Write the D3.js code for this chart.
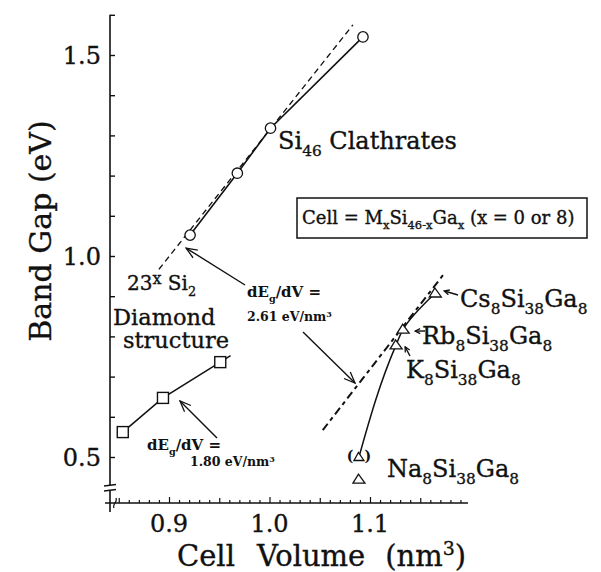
<!DOCTYPE html>
<html>
<head>
<meta charset="utf-8">
<script src="https://cdn.jsdelivr.net/npm/d3@7/dist/d3.min.js"></script>
<style>
  body { margin: 0; background: #fff; }
  svg { display: block; }
  text { font-family: "DejaVu Serif", "Liberation Serif", serif; fill: #111; }
  text.heavy { stroke: #111; stroke-width: 0.35px; }
</style>
</head>
<body>
<svg id="chart" width="601" height="572"></svg>
<script>
// Si46 clathrates (x = 0): cell volume (nm^3) and band gap (eV)
const siVolume = [0.921, 0.968, 1.001, 1.093];
const siGap    = [1.052, 1.206, 1.318, 1.545];

// diamond-structure silicon, 23 x Si2 cell
const diaVolume = [0.854, 0.894, 0.951];
const diaGap    = [0.562, 0.647, 0.736];

// M8Si38Ga8 clathrates (x = 8)
const gaMetals = ["Cs", "Rb", "K", "Na"];
const gaVolume = [1.165, 1.133, 1.126, 1.089];
const gaGap    = [0.908, 0.818, 0.779, 0.445];

// second (bracketed) value for Na8Si38Ga8
const naAltVolume = [1.089];
const naAltGap    = [0.500];

// linear fits drawn dashed
const siFitVolume = [0.890, 1.083];
const siFitGap    = [0.967, 1.575];
const gaFitVolume = [1.053, 1.175];
const gaFitGap    = [0.567, 0.960];

// axis ticks
const xTickLabels = ["0.9", "1.0", "1.1"];
const yTickLabels = ["0.5", "1.0", "1.5"];
const xMinorTicks = d3.range(85, 120).map(v => v / 100);
const yMinorTicks = d3.range(5, 17).map(v => v / 10);

const svg = d3.select("#chart");

const x = d3.scaleLinear().domain([0.9, 1.1]).range([169, 370]);
const y = d3.scaleLinear().domain([0.5, 1.5]).range([457, 55]);

const axisX0 = 105, axisX1 = 468;   // x-axis extent (px)
const axisY  = 503;                 // x-axis baseline (px)
const yAxisX = 110;                 // y-axis position (px)
const yTop   = y(1.6);

// ---- marker defs (open arrowheads) ----
const defs = svg.append("defs");
function arrowDef(id, len, half) {
  defs.append("marker")
    .attr("id", id)
    .attr("viewBox", `${-len - 1} ${-half - 1} ${len + 2} ${2 * half + 2}`)
    .attr("markerUnits", "userSpaceOnUse")
    .attr("markerWidth", len + 2).attr("markerHeight", 2 * half + 2)
    .attr("refX", 0).attr("refY", 0)
    .attr("orient", "auto")
    .append("path")
    .attr("d", `M${-len},${-half} L0,0 L${-len},${half}`)
    .attr("fill", "none").attr("stroke", "#111").attr("stroke-width", 1.3);
}
arrowDef("arrow", 11, 4.5);
arrowDef("arrowSmall", 5, 2.5);

// ---- axes ----
const axes = svg.append("g").attr("stroke", "#111").attr("fill", "none");

// y axis with break near the bottom
axes.append("line").attr("x1", yAxisX).attr("x2", yAxisX).attr("y1", yTop).attr("y2", 485).attr("stroke-width", 1.6);
axes.append("line").attr("x1", yAxisX).attr("x2", yAxisX).attr("y1", 490).attr("y2", 512).attr("stroke-width", 1.6);
axes.append("line").attr("x1", 104).attr("x2", 116).attr("y1", 486).attr("y2", 484.5).attr("stroke-width", 1.3);
axes.append("line").attr("x1", 104).attr("x2", 116).attr("y1", 491).attr("y2", 489.5).attr("stroke-width", 1.3);

// x axis with break mark
axes.append("line").attr("x1", axisX0).attr("x2", axisX1).attr("y1", axisY).attr("y2", axisY).attr("stroke-width", 1.5);
axes.append("path")
  .attr("d", `M114,${axisY + 5} C112,${axisY + 1} 118,${axisY - 1} 116,${axisY - 5}`)
  .attr("stroke-width", 1.2);

// y ticks (inward)
const yAxis = d3.axisLeft(y).tickValues(yMinorTicks).tickSize(-5).tickFormat("");
const gy = svg.append("g").attr("transform", `translate(${yAxisX},0)`).call(yAxis);
gy.select(".domain").remove();
gy.selectAll("line").attr("stroke", "#111").attr("stroke-width", 1.4);

// x ticks (inward): minor 0.01, medium 0.05, major 0.1
const xAxis = d3.axisBottom(x).tickValues(xMinorTicks)
  .tickSize(-3).tickFormat("");
const gx = svg.append("g").attr("transform", `translate(0,${axisY})`).call(xAxis);
gx.select(".domain").remove();
gx.selectAll(".tick line")
  .attr("stroke", "#111").attr("stroke-width", 1.2)
  .attr("y2", d => {
    const k = Math.round(d * 100);
    return k % 10 === 0 ? -6 : (k % 5 === 0 ? -5 : -3);
  });

// tick labels
svg.append("g").selectAll("text").data(xTickLabels).join("text")
  .attr("class", "heavy")
  .attr("x", d => x(+d)).attr("y", 532)
  .attr("text-anchor", "middle")
  .style("font-size", "24px")
  .text(d => d);

svg.append("g").selectAll("text").data(yTickLabels).join("text")
  .attr("class", "heavy")
  .attr("x", 101).attr("y", d => y(+d) + 9)
  .attr("text-anchor", "end")
  .style("font-size", "24px")
  .text(d => d);

// axis titles
const xTitle = svg.append("text").attr("class", "heavy").attr("x", 177).attr("y", 566).style("font-size", "29px");
xTitle.append("tspan").text("Cell");
xTitle.append("tspan").attr("dx", 22).text("Volume");
xTitle.append("tspan").attr("dx", 20).text("(nm");
xTitle.append("tspan").attr("dy", -11).style("font-size", "19px").text("3");
xTitle.append("tspan").attr("dy", 11).text(")");

svg.append("text")
  .attr("class", "heavy")
  .attr("transform", "translate(51,231) rotate(-90)")
  .attr("text-anchor", "middle")
  .style("font-size", "30px")
  .text("Band Gap (eV)");

// ---- helper for text with sub/superscripts ----
function richText(parent, px, py, segs, size, weight, cls) {
  const t = parent.append("text").attr("x", px).attr("y", py)
    .attr("class", cls || null)
    .style("font-size", size + "px").style("font-weight", weight || "normal");
  let shift = 0;
  segs.forEach(([s, kind, scale]) => {
    const target = kind === "sub" ? size * 0.3 : kind === "sup" ? -size * 0.3 : 0;
    t.append("tspan")
      .attr("dy", target - shift)
      .style("font-size", (kind ? size * (scale || 0.64) : size) + "px")
      .text(s);
    shift = target;
  });
  return t;
}

// ---- dashed linear fits ----
const line = d3.line().x(d => x(d[0])).y(d => y(d[1]));

svg.append("path")
  .datum(d3.zip(siFitVolume, siFitGap))
  .attr("d", line)
  .attr("fill", "none").attr("stroke", "#111").attr("stroke-width", 1.3)
  .attr("stroke-dasharray", "6,4");

svg.append("path")
  .datum(d3.zip(gaFitVolume, gaFitGap))
  .attr("d", line)
  .attr("fill", "none").attr("stroke", "#111").attr("stroke-width", 2)
  .attr("stroke-dasharray", "8,4,4,4");

// ---- solid series lines ----
svg.append("path")
  .datum(d3.zip(siVolume, siGap))
  .attr("d", line)
  .attr("fill", "none").attr("stroke", "#111").attr("stroke-width", 1.6);

// diamond line runs a little past the last point along its last segment
const diaPts = d3.zip(diaVolume, diaGap);
const nD = diaPts.length;
const tail = 0.18;
const diaTail = [
  diaPts[nD - 1][0] + tail * (diaPts[nD - 1][0] - diaPts[nD - 2][0]),
  diaPts[nD - 1][1] + tail * (diaPts[nD - 1][1] - diaPts[nD - 2][1])
];
svg.append("path")
  .datum(diaPts.concat([diaTail]))
  .attr("d", line)
  .attr("fill", "none").attr("stroke", "#111").attr("stroke-width", 1.5);

// Ga-substituted series: bracketed Na value through K, Rb, Cs
const gaPts = [[naAltVolume[0], naAltGap[0]]]
  .concat(d3.zip(gaVolume, gaGap).filter((d, i) => gaMetals[i] !== "Na")
  .sort((a, b) => a[1] - b[1]));
svg.append("path")
  .datum(gaPts)
  .attr("d", d3.line().x(d => x(d[0])).y(d => y(d[1])).curve(d3.curveMonotoneY))
  .attr("fill", "none").attr("stroke", "#111").attr("stroke-width", 1.5);

// ---- markers ----
svg.append("g").selectAll("circle").data(d3.zip(siVolume, siGap)).join("circle")
  .attr("cx", d => x(d[0])).attr("cy", d => y(d[1])).attr("r", 5.2)
  .attr("fill", "#fff").attr("stroke", "#111").attr("stroke-width", 1.3);

svg.append("g").selectAll("rect").data(diaPts).join("rect")
  .attr("x", d => x(d[0]) - 5.5).attr("y", d => y(d[1]) - 5.5)
  .attr("width", 11).attr("height", 11)
  .attr("fill", "#fff").attr("stroke", "#111").attr("stroke-width", 1.4);

const tri = "M-6,4 L6,4 L-0.5,-5 Z";
const triSmall = "M-5,3.5 L5,3.5 L-0.5,-4.5 Z";
svg.append("g").selectAll("path")
  .data(d3.zip(gaVolume, gaGap))
  .join("path")
  .attr("transform", d => `translate(${x(d[0])},${y(d[1])})`)
  .attr("d", tri)
  .attr("fill", "#fff").attr("stroke", "#111").attr("stroke-width", 1.3);
svg.append("g").selectAll("path")
  .data(d3.zip(naAltVolume, naAltGap))
  .join("path")
  .attr("transform", d => `translate(${x(d[0])},${y(d[1])})`)
  .attr("d", triSmall)
  .attr("fill", "#fff").attr("stroke", "#111").attr("stroke-width", 1.3);

// brackets around the second Na value
const naX = x(naAltVolume[0]), naY = y(naAltGap[0]);
svg.append("text").attr("x", naX - 5.5).attr("y", naY + 4).attr("text-anchor", "end")
  .style("font-size", "14px").style("font-weight", "bold").text("(");
svg.append("text").attr("x", naX + 5.5).attr("y", naY + 4)
  .style("font-size", "14px").style("font-weight", "bold").text(")");

// ---- labels ----
const labels = svg.append("g");

richText(labels, 278, 149, [["Si"], ["46", "sub"], [" Clathrates"]], 24, "normal", "heavy");

// formula box
labels.append("rect").attr("x", 297).attr("y", 198).attr("width", 290).attr("height", 40)
  .attr("fill", "#fff").attr("stroke", "#111").attr("stroke-width", 1.5);
richText(labels, 302, 224,
  [["Cell = M"], ["x", "sub"], ["Si"], ["46-x", "sub"], ["Ga"], ["x", "sub"], [" (x = 0 or 8)"]], 18, "normal", "heavy");

// diamond-structure label
richText(labels, 127, 290, [["23"], ["x", "sup", 0.8], [" Si"], ["2", "sub"]], 20, "normal", "heavy");
labels.append("text").attr("class", "heavy").attr("x", 113).attr("y", 325).style("font-size", "22.5px").text("Diamond");
labels.append("text").attr("class", "heavy").attr("x", 123).attr("y", 348).style("font-size", "22.5px").text("structure");

// slope annotations
richText(labels, 247, 297, [["dE"], ["g", "sub"], ["/dV ="]], 15, "bold");
richText(labels, 247, 321, [["2.61 eV/nm"], ["3", "sup"]], 12.5, "bold");
richText(labels, 147, 450, [["dE"], ["g", "sub"], ["/dV ="]], 15, "bold");
richText(labels, 190, 466, [["1.80 eV/nm"], ["3", "sup"]], 12.5, "bold");

// compound labels
const gaLabelPos = { Cs: [460, 307], Rb: [422, 344], K: [406, 378], Na: [387, 477] };
gaMetals.forEach(m => {
  const [lx, ly] = gaLabelPos[m];
  richText(labels, lx, ly, [[m], ["8", "sub"], ["Si"], ["38", "sub"], ["Ga"], ["8", "sub"]], 24, "normal", "heavy");
});

// ---- arrows ----
const arrows = svg.append("g").attr("stroke", "#111").attr("stroke-width", 1.4).attr("fill", "none");
function arrow(x1, y1, x2, y2, m) {
  arrows.append("line").attr("x1", x1).attr("y1", y1).attr("x2", x2).attr("y2", y2)
    .attr("marker-end", `url(#${m})`);
}
// to the Si46 fit and diamond points
arrow(245, 285, x(siVolume[0]) - 4, y(siGap[0]) + 13, "arrow");
arrow(303, 332, 355, 383, "arrow");
arrow(217, 438, x(diaVolume[1]) + 17, y(diaGap[1]) + 3, "arrow");
// short leaders to the triangles
arrow(458, 295, x(gaVolume[0]) + 9, y(gaGap[0]) - 2, "arrowSmall");
arrow(425, 331, x(gaVolume[1]) + 12, y(gaGap[1]) + 2, "arrowSmall");
arrow(410, 356, x(gaVolume[2]) + 9, y(gaGap[2]) + 2, "arrowSmall");
</script>
</body>
</html>
